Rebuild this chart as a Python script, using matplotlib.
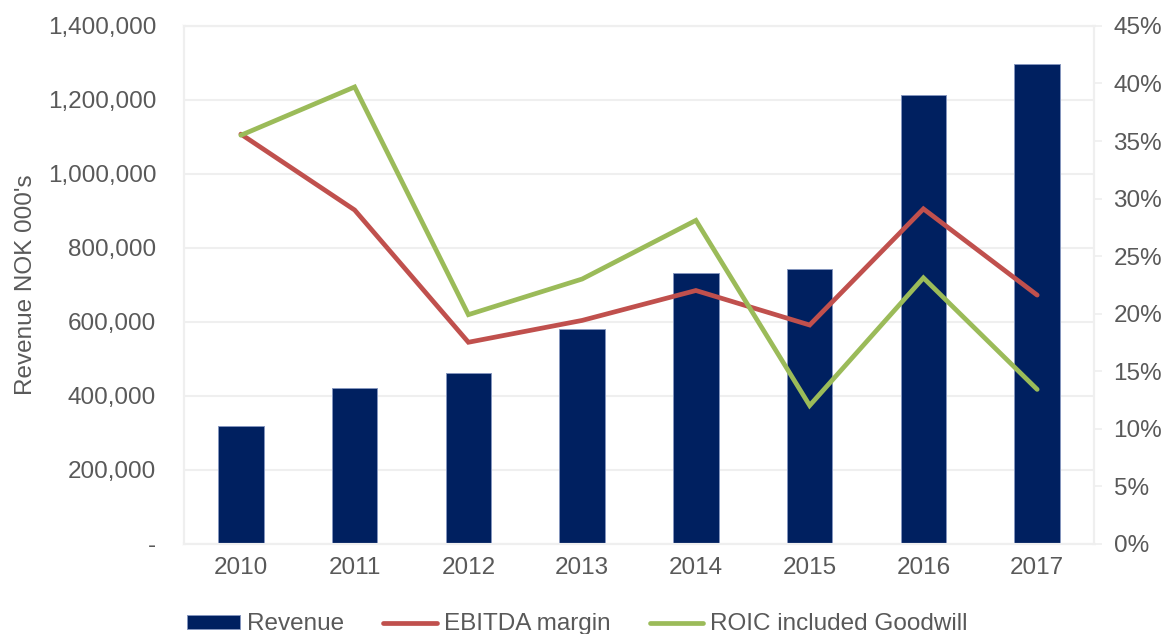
import matplotlib.pyplot as plt
from matplotlib.ticker import FuncFormatter, MultipleLocator
import numpy as np

# Revenue (NOK 000's) with EBITDA margin and ROIC on a second axis
years = ['2010', '2011', '2012', '2013', '2014', '2015', '2016', '2017']
revenue = [318000, 421000, 462000, 581000, 732000, 743000, 1214000, 1297000]
ebitda_margin = [35.6, 29.0, 17.5, 19.4, 22.0, 19.0, 29.1, 21.6]
roic_goodwill = [35.5, 39.7, 19.9, 23.0, 28.1, 12.0, 23.1, 13.4]

plt.rcParams['font.family'] = ['Liberation Sans', 'DejaVu Sans']
txt = '#595959'
grid = '#EFEFEF'
fs = 17.5

fig = plt.figure(figsize=(11.66, 6.34), dpi=100)
ax = fig.add_axes([0.1578, 0.1427, 0.7805, 0.8163])
ax2 = ax.twinx()

x = np.arange(len(years))
bars = ax.bar(x, revenue, width=0.4, color='#002060', edgecolor='#8596BE',
              linewidth=0.7, label='Revenue', zorder=2)
ax.set_xlim(-0.5, len(years) - 0.5)
ax.set_ylim(0, 1400000)
ax.yaxis.set_major_locator(MultipleLocator(200000))
ax.yaxis.set_major_formatter(FuncFormatter(lambda v, p: '-' if v == 0 else f'{int(v):,}'))
ax.grid(axis='y', color=grid, linewidth=1.5, zorder=0)
ax.set_axisbelow(True)
ax.set_xticks(x)
ax.set_xticklabels(years)
ax.tick_params(axis='x', length=0, pad=10, labelsize=fs, labelcolor=txt)
ax.tick_params(axis='y', length=0, pad=20, labelsize=fs, labelcolor=txt)
ax.set_ylabel("Revenue NOK 000's", fontsize=fs, color=txt)
ax.yaxis.set_label_coords(-0.161, 0.5)

l1, = ax2.plot(x, ebitda_margin, color='#C0504D', linewidth=3.4, label='EBITDA margin',
               solid_joinstyle='miter', solid_capstyle='round')
l2, = ax2.plot(x, roic_goodwill, color='#9BBB59', linewidth=3.4, label='ROIC included Goodwill',
               solid_joinstyle='miter', solid_capstyle='round')
ax2.set_ylim(0, 45)
ax2.yaxis.set_major_locator(MultipleLocator(5))
ax2.yaxis.set_major_formatter(FuncFormatter(lambda v, p: f'{int(round(v))}%'))
ax2.tick_params(axis='y', length=6, width=1.2, color=grid, pad=8, labelsize=fs, labelcolor=txt)

for a in (ax, ax2):
    for s in a.spines.values():
        s.set_color(grid)
        s.set_linewidth(1.5)

fig.legend(handles=[bars, l1, l2], loc='center', bbox_to_anchor=(0.495, 0.015),
           ncol=3, frameon=False, fontsize=fs, labelcolor=txt,
           handlelength=2.2, handleheight=0.5, handletextpad=0.3, columnspacing=1.6)

fig.savefig('out.png', dpi=100)
